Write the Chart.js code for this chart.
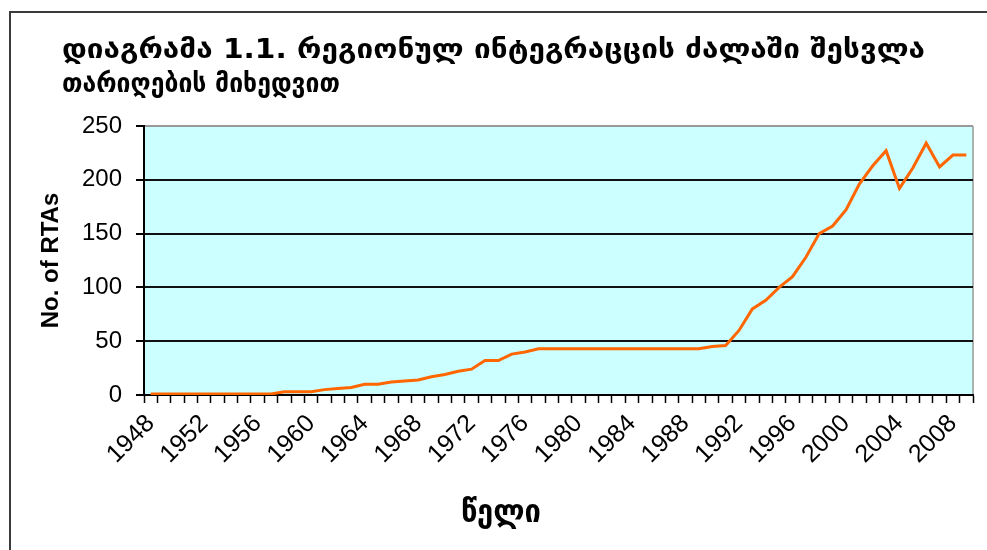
<!DOCTYPE html>
<html>
<head>
<meta charset="utf-8">
<script src="https://cdn.jsdelivr.net/npm/chart.js@4/dist/chart.umd.min.js"></script>
<style>
  html, body { margin: 0; padding: 0; background: #fff; }
  canvas { display: block; }
</style>
</head>
<body>
<canvas id="rtaChart" width="987" height="550"></canvas>
<script>
// წლები (კატეგორიები)
const years = [
  '1948','1949','1950','1951','1952','1953','1954','1955','1956','1957',
  '1958','1959','1960','1961','1962','1963','1964','1965','1966','1967',
  '1968','1969','1970','1971','1972','1973','1974','1975','1976','1977',
  '1978','1979','1980','1981','1982','1983','1984','1985','1986','1987',
  '1988','1989','1990','1991','1992','1993','1994','1995','1996','1997',
  '1998','1999','2000','2001','2002','2003','2004','2005','2006','2007',
  '2008','2009'
];
// RTA-ების რაოდენობა
const rtaCounts = [
  1, 1, 1, 1, 1, 1, 1, 1, 1, 1,
  3, 3, 3, 5, 6, 7, 10, 10, 12, 13,
  14, 17, 19, 22, 24, 32, 32, 38, 40, 43,
  43, 43, 43, 43, 43, 43, 43, 43, 43, 43,
  43, 43, 45, 46, 60, 80, 88, 100, 110, 128,
  150, 157, 172, 196, 213, 227, 192, 211, 234, 212,
  223, 223
];
const xTickLabels = ['1948','1952','1956','1960','1964','1968','1972','1976','1980','1984','1988','1992','1996','2000','2004','2008'];
const yTicks = [0, 50, 100, 150, 200, 250];

const titleLines = [
  'დიაგრამა 1.1. რეგიონულ ინტეგრაცცის ძალაში შესვლა',
  'თარიღების მიხედვით'
];
const xTitle = 'წელი';
const yTitle = 'No. of RTAs';

// ფონი, ჩარჩო, სათაური
const decor = {
  id: 'decor',
  beforeDraw(chart) {
    const { ctx, chartArea: a } = chart;
    ctx.save();
    ctx.fillStyle = '#CCFFFF';
    ctx.fillRect(a.left, a.top, a.right - a.left, a.bottom - a.top);
    ctx.strokeStyle = '#999999';
    ctx.lineWidth = 1.5;
    ctx.beginPath();
    ctx.moveTo(a.right, a.top);
    ctx.lineTo(a.right, a.bottom);
    ctx.stroke();
    // outer frame
    ctx.strokeStyle = '#3a3a3a';
    ctx.lineWidth = 2;
    ctx.beginPath();
    ctx.moveTo(10, 560);
    ctx.lineTo(10, 12);
    ctx.lineTo(1000, 12);
    ctx.stroke();
    ctx.restore();
  },
  afterDraw(chart) {
    const ctx = chart.ctx;
    ctx.save();
    ctx.fillStyle = '#000';
    ctx.textBaseline = 'alphabetic';
    ctx.font = 'bold 27px "DejaVu Sans"';
    [[58, 863], [92, 278]].forEach(([y, target], i) => {
      const sx = target / ctx.measureText(titleLines[i]).width;
      ctx.save();
      ctx.translate(62, y);
      ctx.scale(sx, 1);
      ctx.fillText(titleLines[i], 0, 0);
      ctx.restore();
    });
    ctx.font = 'bold 32px "DejaVu Sans"';
    const w = ctx.measureText(xTitle).width;
    ctx.save();
    ctx.translate(501, 522);
    ctx.scale(80 / w, 1);
    ctx.textAlign = 'center';
    ctx.fillText(xTitle, 0, 0);
    ctx.restore();
    ctx.restore();
  }
};

new Chart(document.getElementById('rtaChart'), {
  type: 'line',
  data: {
    labels: years,
    datasets: [{
      label: yTitle,
      data: rtaCounts,
      borderColor: '#FF6600',
      borderWidth: 3,
      pointRadius: 0,
      tension: 0,
      fill: false
    }]
  },
  options: {
    responsive: false,
    devicePixelRatio: 1,
    animation: false,
    layout: { padding: { top: 126, right: 14, left: 0, bottom: 0 } },
    plugins: {
      legend: { display: false },
      tooltip: { enabled: false }
    },
    scales: {
      x: {
        offset: true,
        afterFit(scale) {
          scale.height = 155;
          scale.paddingLeft = 0;
          scale.paddingRight = 0;
        },
        grid: {
          offset: true,
          drawOnChartArea: false,
          drawTicks: true,
          tickLength: 8,
          tickColor: '#000',
          tickWidth: 1.5
        },
        border: { display: true, color: '#000', width: 2 },
        ticks: {
          autoSkip: false,
          minRotation: 45,
          maxRotation: 45,
          padding: 6,
          color: '#000',
          font: { family: '"Liberation Sans", Arial', size: 25 },
          callback(val, idx) {
            const lab = years[idx];
            return xTickLabels.includes(lab) ? lab : '';
          }
        }
      },
      y: {
        min: 0,
        max: 250,
        afterFit(scale) { scale.width = 144; },
        afterBuildTicks(scale) { scale.ticks = yTicks.map(v => ({ value: v })); },
        grid: {
          color: ctx => ctx.tick && ctx.tick.value === 250 ? '#999999' : '#111111',
          lineWidth: 2,
          drawTicks: true,
          tickLength: 8,
          tickColor: '#000',
          tickWidth: 2
        },
        border: { display: true, color: '#000', width: 2 },
        ticks: {
          padding: 14,
          color: '#000',
          font: { family: '"Liberation Sans", Arial', size: 24 }
        },
        title: {
          display: true,
          text: yTitle,
          color: '#000',
          font: { family: '"Liberation Sans", Arial', size: 24, weight: 'bold' },
          padding: { top: 37, bottom: 0 }
        }
      }
    }
  },
  plugins: [decor]
});
</script>
</body>
</html>
